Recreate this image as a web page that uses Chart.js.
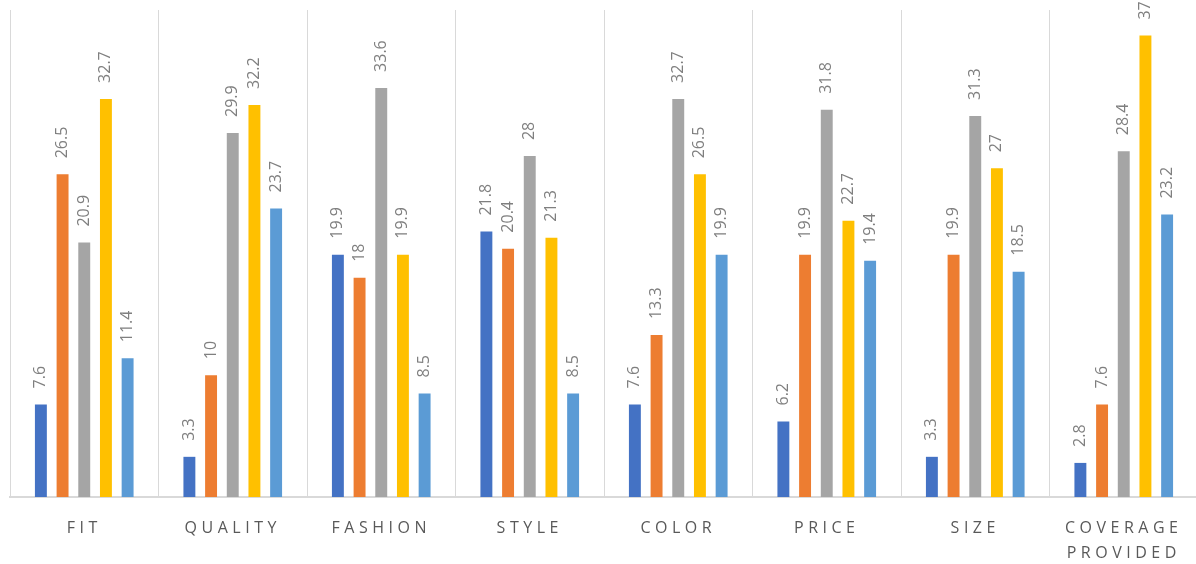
<!DOCTYPE html>
<html>
<head>
<meta charset="utf-8">
<script src="https://cdn.jsdelivr.net/npm/chart.js@4/dist/chart.umd.min.js"></script>
<style>
  html, body { margin: 0; padding: 0; background: #fff; overflow: hidden; }
  #wrap { width: 1200px; height: 564px; }
</style>
</head>
<body>
<div id="wrap"><canvas id="grafico" width="1200" height="564"></canvas></div>
<script>
const categorias = ['FIT', 'QUALITY', 'FASHION', 'STYLE', 'COLOR', 'PRICE', 'SIZE', ['COVERAGE', 'PROVIDED']];

const serie1 = [7.6, 3.3, 19.9, 21.8, 7.6, 6.2, 3.3, 2.8];
const serie2 = [26.5, 10, 18, 20.4, 13.3, 19.9, 19.9, 7.6];
const serie3 = [20.9, 29.9, 33.6, 28, 32.7, 31.8, 31.3, 28.4];
const serie4 = [32.7, 32.2, 19.9, 21.3, 26.5, 22.7, 27, 37.9];
const serie5 = [11.4, 23.7, 8.5, 8.5, 19.9, 19.4, 18.5, 23.2];

const cores = ['#4472C4', '#ED7D31', '#A5A5A5', '#FFC000', '#5B9BD5'];

// rótulos de dados girados acima de cada barra
const rotulos = {
  id: 'rotulos',
  beforeDraw(chart) {
    chart.ctx.letterSpacing = '4.5px'; // espaçamento das letras do eixo x
  },
  beforeDatasetsDraw(chart) {
    chart.ctx.letterSpacing = '0px';
  },
  afterDatasetsDraw(chart) {
    const ctx = chart.ctx;
    ctx.save();
    ctx.font = '16px "Open Sans"';
    ctx.fillStyle = '#7f7f7f';
    ctx.textAlign = 'left';
    ctx.textBaseline = 'middle';
    chart.data.datasets.forEach((ds, i) => {
      chart.getDatasetMeta(i).data.forEach((bar, j) => {
        ctx.save();
        ctx.translate(bar.x, bar.y - 16);
        ctx.rotate(-Math.PI / 2);
        ctx.fillText(String(ds.data[j]), 0, 0);
        ctx.restore();
      });
    });
    ctx.restore();
  }
};

const series = [serie1, serie2, serie3, serie4, serie5];

new Chart(document.getElementById('grafico').getContext('2d'), {
  type: 'bar',
  data: {
    labels: categorias,
    datasets: series.map((s, i) => ({
      label: 'Série ' + (i + 1),
      data: s,
      backgroundColor: cores[i],
      barPercentage: 0.55,
      categoryPercentage: 0.73
    }))
  },
  options: {
    responsive: false,
    animation: false,
    layout: { padding: { left: 10, right: 2, top: 10, bottom: 0 } },
    plugins: {
      legend: { display: false },
      tooltip: { enabled: false }
    },
    scales: {
      y: { display: false, min: 0, max: 40 },
      x: {
        afterFit: scale => { scale.height = 67; },
        grid: { color: '#d9d9d9', lineWidth: 1, drawTicks: false },
        border: { color: '#d9d9d9', width: 2 },
        ticks: {
          color: '#595959',
          padding: 18,
          font: { family: '"Open Sans"', size: 16, lineHeight: 1.62 },
          maxRotation: 0,
          autoSkip: false
        }
      }
    }
  },
  plugins: [rotulos]
});
</script>
</body>
</html>
